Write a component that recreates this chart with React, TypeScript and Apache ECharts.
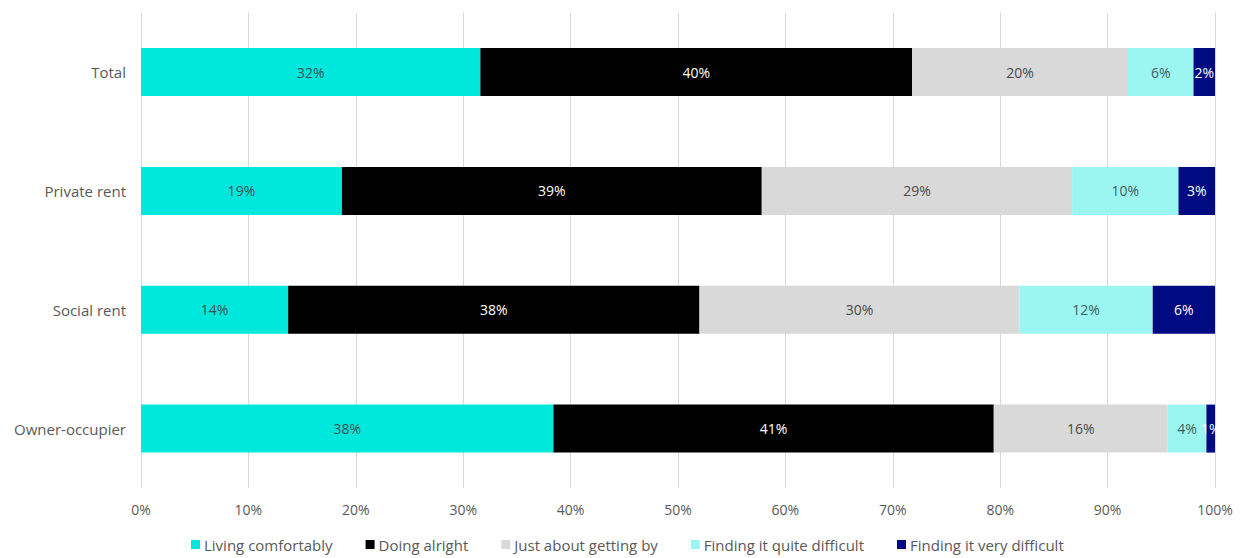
import React, { useEffect, useRef } from "react";
import * as echarts from "echarts";

const categories = ["Total", "Private rent", "Social rent", "Owner-occupier"];
const seriesNames = [
  "Living comfortably",
  "Doing alright",
  "Just about getting by",
  "Finding it quite difficult",
  "Finding it very difficult",
];
const livingComfortably = [31.6, 18.7, 13.7, 38.4];
const doingAlright = [40.2, 39.1, 38.3, 41.0];
const justAboutGettingBy = [20.1, 28.9, 29.8, 16.2];
const quiteDifficult = [6.1, 9.9, 12.4, 3.6];
const veryDifficult = [2.0, 3.4, 5.8, 0.8];
const xTicks = [0, 10, 20, 30, 40, 50, 60, 70, 80, 90, 100];

const colors = ["#00E8DC", "#000000", "#D9D9D9", "#9BF5F0", "#000A82"];
const labelColors = ["#3F4F4F", "#FFFFFF", "#4A4A4A", "#3F5F5F", "#FFFFFF"];
const FONT = "Open Sans";

export default function App() {
  const ref = useRef<HTMLDivElement>(null);
  useEffect(() => {
    if (!ref.current) return;
    const chart = echarts.init(ref.current, null, { renderer: "svg" });
    const values = [livingComfortably, doingAlright, justAboutGettingBy, quiteDifficult, veryDifficult];
    chart.setOption({
      animation: false,
      textStyle: { fontFamily: FONT },
      grid: { left: 141, right: 26, top: 12.6, bottom: 70, containLabel: false },
      legend: {
        bottom: 1,
        left: 186,
        itemWidth: 9,
        itemHeight: 9,
        itemGap: 33,
        icon: "rect",
        textStyle: { fontFamily: FONT, fontSize: 15, color: "#595959", padding: [0, 0, 0, -1] },
        data: seriesNames,
      },
      xAxis: {
        type: "value",
        min: xTicks[0],
        max: xTicks[xTicks.length - 1],
        interval: 10,
        axisLine: { show: false },
        axisTick: { show: false },
        axisLabel: {
          formatter: "{value}%",
          color: "#595959",
          fontFamily: FONT,
          fontSize: 14,
          margin: 14,
        },
        splitLine: { show: true, lineStyle: { color: "#D9D9D9", width: 1 } },
      },
      yAxis: {
        type: "category",
        data: categories,
        inverse: true,
        axisLine: { show: false },
        axisTick: { show: false },
        axisLabel: { color: "#595959", fontFamily: FONT, fontSize: 15, margin: 15 },
      },
      series: seriesNames.map((name, i) => ({
        name,
        type: "bar",
        stack: "total",
        barWidth: 48,
        data: values[i],
        itemStyle: { color: colors[i] },
        label: {
          show: true,
          position: "inside",
          color: labelColors[i],
          fontFamily: FONT,
          fontSize: 14,
          formatter: (p: any) => Math.round(p.value) + "%",
        },
      })),
    });
    return () => chart.dispose();
  }, []);
  return (
    <div
      ref={ref}
      style={{ position: "fixed", left: 0, top: 0, width: 1241, height: 558, background: "#fff" }}
    />
  );
}
